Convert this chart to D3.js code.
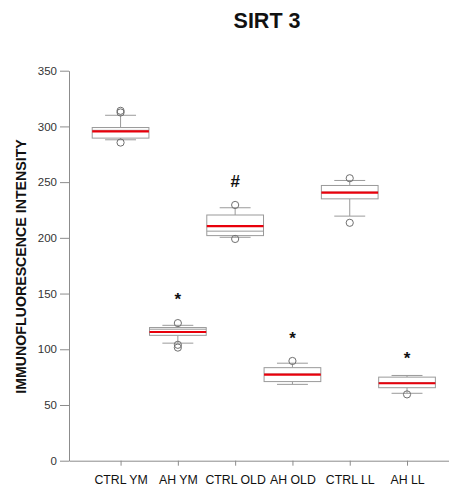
<!DOCTYPE html>
<html>
<head>
<meta charset="utf-8">
<script src="https://cdn.jsdelivr.net/npm/d3@7"></script>
<style>
  html, body { margin: 0; padding: 0; background: #fff; }
  svg { display: block; }
  text { font-family: Arial, "Liberation Sans", sans-serif; }
</style>
</head>
<body>
<svg id="chart" width="449" height="488"></svg>
<script>
// Box-plot summaries per group
const categories = ["CTRL YM", "AH YM", "CTRL OLD", "AH OLD", "CTRL LL", "AH LL"];
const q1Values      = [289.5, 112.5, 202.0, 71.0, 235.0, 65.5];
const medianValues  = [296.5, 118.0, 206.0, 77.8, 241.0, 70.0];
const q3Values      = [299.0, 119.5, 220.5, 83.5, 247.0, 75.0];
const meanValues    = [295.5, 115.5, 210.5, 77.2, 240.5, 69.5];
const whiskerLow    = [288.0, 105.5, 200.5, 68.5, 219.5, 60.5];
const whiskerHigh   = [310.0, 121.5, 227.0, 87.5, 251.5, 76.5];
const outlierValues = [[285.5, 312.5, 314.0], [101.5, 104.0, 123.5], [199.0, 229.5], [89.5], [213.5, 253.5], [59.5]];
// Significance symbols and the level they are printed at
const sigSymbols = ["", "*", "#", "*", "", "*"];
const sigLevels  = [null, 149, 251, 114, null, 96];
const yTicks = [0, 50, 100, 150, 200, 250, 300, 350];

const svg = d3.select("#chart");
const axisColor = "#8c8c8c";
const boxColor = "#9a9a9a";

const y = d3.scaleLinear().domain([0, 350]).range([460.7, 70.7]);
const x = d3.scaleLinear().domain([-0.9, 5.75]).range([69, 450]);
const step = x(1) - x(0);
const boxW = step * 0.99;
const capW = step * 0.54;

// Y axis
const yAxis = d3.axisLeft(y).tickValues(yTicks).tickSize(9).tickPadding(3).tickSizeOuter(0);
const gy = svg.append("g").attr("transform", `translate(${x(-0.9)},0)`).call(yAxis);
gy.select(".domain").attr("stroke", axisColor);
gy.selectAll(".tick line").attr("stroke", axisColor);
gy.selectAll(".tick text").attr("font-size", 11.5).attr("fill", "#333")
  .attr("font-family", "Arial, 'Liberation Sans', sans-serif");

// X axis
const xAxis = d3.axisBottom(x).tickValues(d3.range(categories.length))
  .tickFormat(i => categories[i]).tickSize(5).tickPadding(10).tickSizeOuter(0);
const gx = svg.append("g").attr("transform", `translate(0,${y(0)})`).call(xAxis);
gx.select(".domain").attr("stroke", axisColor);
gx.selectAll(".tick line").attr("stroke", axisColor);
gx.selectAll(".tick text").attr("font-size", 12.3).attr("fill", "#111")
  .attr("font-family", "Arial, 'Liberation Sans', sans-serif");

// Boxes
const groups = svg.append("g").selectAll("g").data(categories).join("g");

groups.each(function(c, i) {
  const g = d3.select(this);
  const cx = x(i);
  // whiskers
  g.append("line").attr("x1", cx).attr("x2", cx)
    .attr("y1", y(q3Values[i])).attr("y2", y(whiskerHigh[i]))
    .attr("stroke", boxColor).attr("stroke-width", 1);
  g.append("line").attr("x1", cx).attr("x2", cx)
    .attr("y1", y(q1Values[i])).attr("y2", y(whiskerLow[i]))
    .attr("stroke", boxColor).attr("stroke-width", 1);
  [whiskerHigh[i], whiskerLow[i]].forEach(v => {
    g.append("line").attr("x1", cx - capW / 2).attr("x2", cx + capW / 2)
      .attr("y1", y(v)).attr("y2", y(v))
      .attr("stroke", boxColor).attr("stroke-width", 1);
  });
  // box
  g.append("rect").attr("x", cx - boxW / 2).attr("width", boxW)
    .attr("y", y(q3Values[i])).attr("height", y(q1Values[i]) - y(q3Values[i]))
    .attr("fill", "#fff").attr("stroke", boxColor).attr("stroke-width", 1);
  // median
  g.append("line").attr("x1", cx - boxW / 2).attr("x2", cx + boxW / 2)
    .attr("y1", y(medianValues[i])).attr("y2", y(medianValues[i]))
    .attr("stroke", boxColor).attr("stroke-width", 1);
  // mean
  g.append("line").attr("x1", cx - boxW / 2).attr("x2", cx + boxW / 2)
    .attr("y1", y(meanValues[i])).attr("y2", y(meanValues[i]))
    .attr("stroke", "#e8000b").attr("stroke-width", 2.2);
  // outlying points
  outlierValues[i].forEach(v => {
    g.append("circle").attr("cx", cx).attr("cy", y(v)).attr("r", 3.6)
      .attr("fill", "none").attr("stroke", "#6f6f6f").attr("stroke-width", 1);
  });
  // significance symbol
  if (sigSymbols[i]) {
    g.append("text").attr("x", cx).attr("y", y(sigLevels[i]) + (sigSymbols[i] === "#" ? 6 : 10))
      .attr("text-anchor", "middle").attr("font-weight", "bold")
      .attr("font-size", 17).attr("fill", "#111")
      .text(sigSymbols[i]);
  }
});

// Title
svg.append("text").attr("x", 267).attr("y", 28.3).attr("text-anchor", "middle")
  .attr("font-weight", "bold").attr("font-size", 21.5).attr("fill", "#111").text("SIRT 3");

// Y axis title
svg.append("text").attr("transform", "translate(25.5,266.5) rotate(-90)")
  .attr("text-anchor", "middle").attr("font-weight", "bold").attr("font-size", 14.2)
  .attr("fill", "#111").text("IMMUNOFLUORESCENCE INTENSITY");
</script>
</body>
</html>
